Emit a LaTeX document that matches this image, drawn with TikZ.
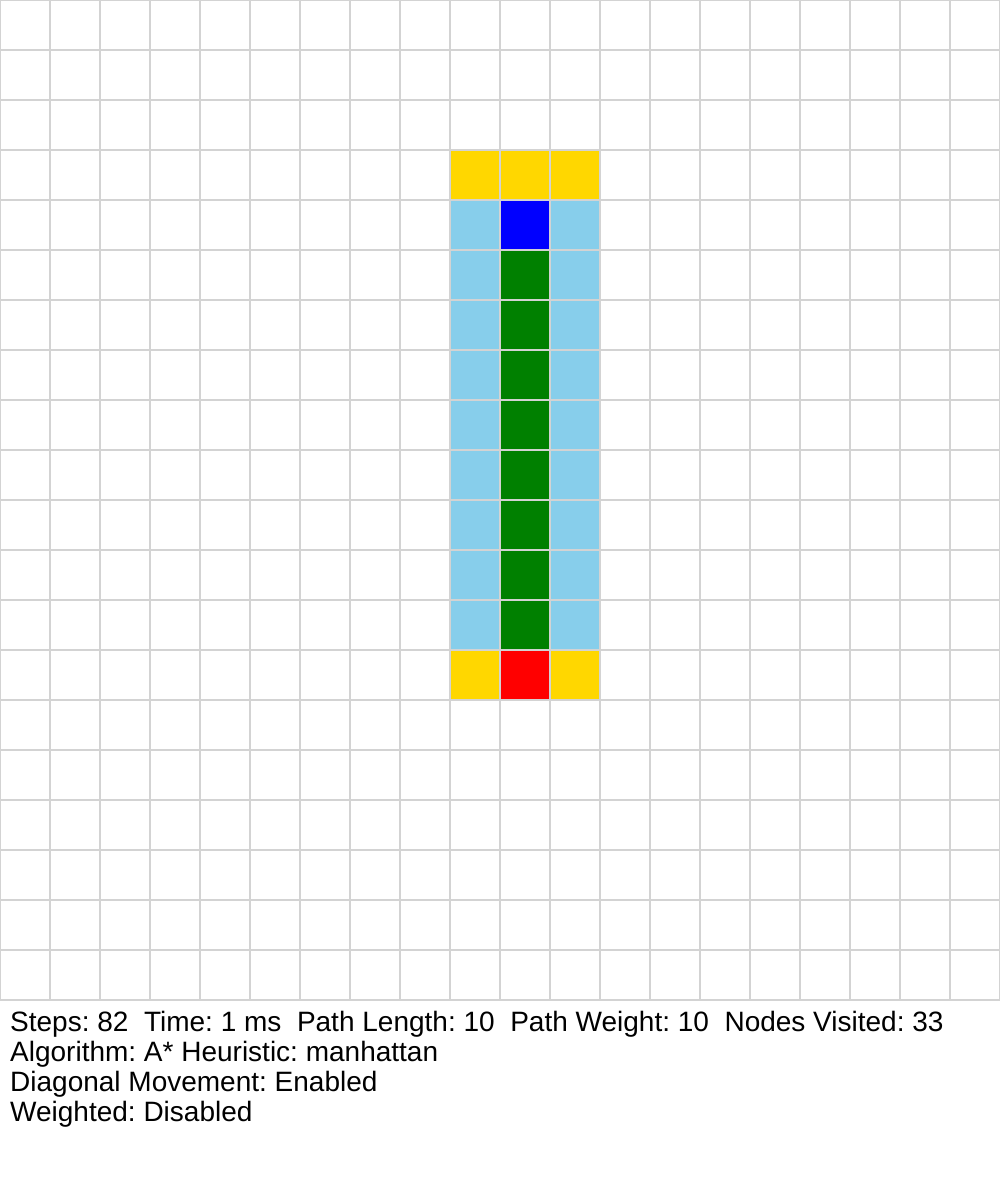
\documentclass[tikz,border=0pt]{standalone}
\usepackage{fontspec}
\setmainfont{Liberation Sans}
\frenchspacing
\definecolor{gridgray}{HTML}{D3D3D3}
\definecolor{cgold}{HTML}{FFD700}
\definecolor{csky}{HTML}{87CEEB}
\definecolor{cblue}{HTML}{0000FF}
\definecolor{cgreen}{HTML}{008000}
\definecolor{cred}{HTML}{FF0000}
\tikzset{
  gridline/.style={draw=gridgray, line width=1.2pt},
  infotext/.style={anchor=base west, inner sep=0pt, font=\fontsize{28}{30}\selectfont\frenchspacing, text=black},
}
\newcommand{\cellfill}[3]{\fill[#3] (#1*50,#2*50) rectangle ++(50,50);}
\begin{document}
\begin{tikzpicture}[x=1pt,y=-1pt]
\fill[white] (0,0) rectangle (1000,1200);
\useasboundingbox (0,0) rectangle (1000,1200);
% open set row 3 (gold)
\cellfill{9}{3}{cgold}
\cellfill{10}{3}{cgold}
\cellfill{11}{3}{cgold}
% start
\cellfill{9}{4}{csky}
\cellfill{10}{4}{cblue}
\cellfill{11}{4}{csky}
\foreach \r in {5,...,12}{
  \cellfill{9}{\r}{csky}
  \cellfill{10}{\r}{cgreen}
  \cellfill{11}{\r}{csky}
}
\cellfill{9}{13}{cgold}
\cellfill{10}{13}{cred}
\cellfill{11}{13}{cgold}
% grid
\foreach \i in {0,...,20}{
  \draw[gridline] (\i*50,0) -- (\i*50,1000);
  \draw[gridline] (0,\i*50) -- (1000,\i*50);
}
\node[infotext] (l1) at (10,1031) {Steps: 82\ \ Time: 1 ms\ \ Path Length: 10\ \ Path Weight: 10\ \ Nodes Visited: 33};
\node[infotext] (l2) at (10,1061) {Algorithm: A* Heuristic: manhattan};
\node[infotext] (l3) at (10,1091) {Diagonal Movement: Enabled};
\node[infotext] (l4) at (10,1121) {Weighted: Disabled};
\end{tikzpicture}
\end{document}
